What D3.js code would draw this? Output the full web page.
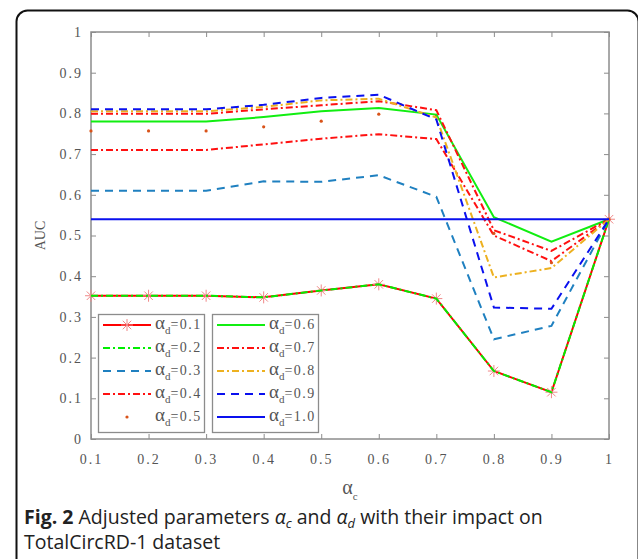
<!DOCTYPE html>
<html>
<head>
<meta charset="utf-8">
<script src="https://cdn.jsdelivr.net/npm/d3@7"></script>
<style>
  body { margin: 0; background: #fff; }
  svg { display: block; }
</style>
</head>
<body>
<div id="chart"></div>
<script>
var width = 638,
    height = 559;

// alpha_c values along the x axis
var alphaC = [0.1, 0.2, 0.3, 0.4, 0.5, 0.6, 0.7, 0.8, 0.9, 1.0];
var xTicks = [0.1, 0.2, 0.3, 0.4, 0.5, 0.6, 0.7, 0.8, 0.9, 1];
var yTicks = [0, 0.1, 0.2, 0.3, 0.4, 0.5, 0.6, 0.7, 0.8, 0.9, 1];

// AUC for each alpha_d
var auc01 = [0.352, 0.352, 0.352, 0.348, 0.365, 0.380, 0.345, 0.167, 0.115, 0.540];
var auc02 = [0.352, 0.352, 0.352, 0.348, 0.365, 0.380, 0.345, 0.167, 0.115, 0.540];
var auc03 = [0.610, 0.610, 0.610, 0.633, 0.632, 0.648, 0.595, 0.245, 0.278, 0.540];
var auc04 = [0.710, 0.710, 0.710, 0.724, 0.738, 0.749, 0.737, 0.500, 0.437, 0.540];
var auc05 = [0.757, 0.757, 0.757, 0.767, 0.781, 0.798, 0.795, 0.505, 0.433, 0.540];
var auc06 = [0.780, 0.780, 0.780, 0.791, 0.805, 0.813, 0.797, 0.545, 0.485, 0.540];
var auc07 = [0.799, 0.799, 0.799, 0.810, 0.820, 0.830, 0.808, 0.513, 0.462, 0.540];
var auc08 = [0.805, 0.805, 0.805, 0.816, 0.832, 0.836, 0.790, 0.397, 0.420, 0.540];
var auc09 = [0.810, 0.810, 0.810, 0.821, 0.838, 0.846, 0.785, 0.323, 0.320, 0.540];
var auc10 = [0.540, 0.540, 0.540, 0.540, 0.540, 0.540, 0.540, 0.540, 0.540, 0.540];

var legendLabels = ["0.1", "0.2", "0.3", "0.4", "0.5", "0.6", "0.7", "0.8", "0.9", "1.0"];

var series = [
  { label: legendLabels[0], values: auc01, color: "#ff0000", dash: null, star: true },
  { label: legendLabels[1], values: auc02, color: "#00ee00", dash: "7,3,2,3" },
  { label: legendLabels[2], values: auc03, color: "#1f80c0", dash: "8,6" },
  { label: legendLabels[3], values: auc04, color: "#ff1010", dash: "7,3,2,3" },
  { label: legendLabels[4], values: auc05, color: "#d95319", dots: true },
  { label: legendLabels[5], values: auc06, color: "#11ee11", dash: null },
  { label: legendLabels[6], values: auc07, color: "#ff1010", dash: "7,3,2,3" },
  { label: legendLabels[7], values: auc08, color: "#edb120", dash: "7,3,2,3" },
  { label: legendLabels[8], values: auc09, color: "#0a10ee", dash: "8,6" },
  { label: legendLabels[9], values: auc10, color: "#0a10ee", dash: null }
];

var margin = { left: 91, right: 29, top: 32, bottom: 120 };

var x = d3.scaleLinear()
    .domain([0.1, 1])
    .range([margin.left, width - margin.right]);

var y = d3.scaleLinear()
    .domain([0, 1])
    .range([height - margin.bottom, margin.top]);

var svg = d3.select("#chart").append("svg")
    .attr("width", width)
    .attr("height", height);

// figure frame
svg.append("rect")
    .attr("x", 16.5).attr("y", 10.5)
    .attr("width", 622).attr("height", 562)
    .attr("rx", 11)
    .attr("fill", "none")
    .attr("stroke", "#111")
    .attr("stroke-width", 2);

var fmt = function(d) { return (d === 0 || d === 1) ? d : d.toFixed(1); };
var axisColor = "#8c8c8c",
    textColor = "#555",
    serif = "'Liberation Serif', 'DejaVu Serif', serif";

function styleAxis(g) {
  g.select(".domain").remove();
  g.selectAll(".tick line").attr("stroke", axisColor).attr("stroke-width", 1);
  g.selectAll(".tick text")
      .attr("fill", textColor)
      .style("font-family", serif)
      .style("font-size", "14px")
      .style("letter-spacing", "2px");
}

svg.append("g")
    .attr("transform", "translate(0," + y(0) + ")")
    .call(d3.axisBottom(x).tickValues(xTicks).tickFormat(fmt).tickSizeInner(-5).tickSizeOuter(0).tickPadding(15))
    .call(styleAxis);

svg.append("g")
    .attr("transform", "translate(0," + y(1) + ")")
    .call(d3.axisTop(x).tickValues(xTicks).tickFormat("").tickSizeInner(-5).tickSizeOuter(0))
    .call(styleAxis);

svg.append("g")
    .attr("transform", "translate(" + x(0.1) + ",0)")
    .call(d3.axisLeft(y).tickValues(yTicks).tickFormat(fmt).tickSizeInner(-5).tickSizeOuter(0).tickPadding(8))
    .call(styleAxis);

svg.append("g")
    .attr("transform", "translate(" + x(1) + ",0)")
    .call(d3.axisRight(y).tickValues(yTicks).tickFormat("").tickSizeInner(-5).tickSizeOuter(0))
    .call(styleAxis);

// plot box
svg.append("rect")
    .attr("x", x(0.1)).attr("y", y(1))
    .attr("width", x(1) - x(0.1)).attr("height", y(0) - y(1))
    .attr("fill", "none")
    .attr("stroke", axisColor)
    .attr("stroke-width", 1.5);

var line = d3.line()
    .x(function(d, i) { return x(alphaC[i]); })
    .y(function(d) { return y(d); });

function starPath(r) {
  var p = "";
  [0, 45, 90, 135].forEach(function(a) {
    var t = a * Math.PI / 180, dx = r * Math.cos(t), dy = r * Math.sin(t);
    p += "M" + (-dx) + "," + (-dy) + "L" + dx + "," + dy;
  });
  return p;
}

var plot = svg.append("g");

series.forEach(function(s) {
  if (s.dots) {
    plot.selectAll(null)
        .data(s.values)
      .enter().append("circle")
        .attr("cx", function(d, i) { return x(alphaC[i]); })
        .attr("cy", function(d) { return y(d); })
        .attr("r", 1.6)
        .attr("fill", s.color);
    return;
  }
  plot.append("path")
      .datum(s.values)
      .attr("d", line)
      .attr("fill", "none")
      .attr("stroke", s.color)
      .attr("stroke-width", 2)
      .attr("stroke-dasharray", s.dash);
  if (s.star) {
    plot.selectAll(null)
        .data(s.values)
      .enter().append("path")
        .attr("transform", function(d, i) { return "translate(" + x(alphaC[i]) + "," + y(d) + ")"; })
        .attr("d", starPath(6))
        .attr("stroke", "#f08888")
        .attr("stroke-width", 1);
  }
});

// legend, two boxes of five entries
var legendBoxes = [{ x: 98, y: 314, w: 106, h: 118 }, { x: 212, y: 314, w: 106, h: 118 }];
var rowY = [325, 348, 371, 394, 417];

legendBoxes.forEach(function(b, k) {
  var lg = svg.append("g");
  lg.append("rect")
      .attr("x", b.x + 0.5).attr("y", b.y + 0.5)
      .attr("width", b.w).attr("height", b.h)
      .attr("fill", "#fff")
      .attr("stroke", axisColor)
      .attr("stroke-width", 1.3);

  series.slice(k * 5, k * 5 + 5).forEach(function(s, j) {
    var ly = rowY[j],
        x0 = b.x + 5,
        x1 = b.x + 53;
    if (s.dots) {
      lg.append("circle")
          .attr("cx", (x0 + x1) / 2).attr("cy", ly)
          .attr("r", 1.6).attr("fill", s.color);
    } else {
      lg.append("line")
          .attr("x1", x0).attr("x2", x1)
          .attr("y1", ly).attr("y2", ly)
          .attr("stroke", s.color)
          .attr("stroke-width", 2)
          .attr("stroke-dasharray", s.dash);
    }
    if (s.star) {
      lg.append("path")
          .attr("transform", "translate(" + ((x0 + x1) / 2) + "," + ly + ")")
          .attr("d", starPath(6))
          .attr("stroke", "#f08888")
          .attr("stroke-width", 1);
    }
    var t = lg.append("text")
        .attr("x", b.x + 57)
        .attr("y", ly + 4)
        .attr("fill", textColor)
        .style("font-family", serif)
        .style("font-size", "14px");
    t.append("tspan").style("font-size", "19px").text("α");
    t.append("tspan").attr("dy", 5).style("font-size", "11px").text("d");
    t.append("tspan").attr("dy", -5).style("letter-spacing", "1.5px").text("=" + s.label);
  });
});

// axis titles
svg.append("text")
    .attr("transform", "translate(45," + y(0.5) + ") rotate(-90)")
    .attr("text-anchor", "middle")
    .attr("fill", textColor)
    .style("font-family", serif)
    .style("font-size", "14px")
    .text("AUC");

var xt = svg.append("text")
    .attr("x", (x(0.1) + x(1)) / 2)
    .attr("y", 494)
    .attr("text-anchor", "middle")
    .attr("fill", textColor)
    .style("font-family", serif)
    .style("font-size", "20px");
xt.append("tspan").text("α");
xt.append("tspan").attr("dy", 6).style("font-size", "11px").text("c");

// caption
var cap = svg.append("text")
    .attr("x", 24)
    .attr("y", 524)
    .attr("fill", "#222")
    .style("font-family", "'Open Sans', sans-serif")
    .style("font-size", "19.5px");
cap.append("tspan").style("font-weight", "bold").text("Fig. 2");
cap.append("tspan").text(" Adjusted parameters ");
cap.append("tspan").style("font-style", "italic").text("α");
cap.append("tspan").attr("dy", 4).style("font-size", "13px").style("font-style", "italic").text("c");
cap.append("tspan").attr("dy", -4).text(" and ");
cap.append("tspan").style("font-style", "italic").text("α");
cap.append("tspan").attr("dy", 4).style("font-size", "13px").style("font-style", "italic").text("d");
cap.append("tspan").attr("dy", -4).text(" with their impact on");

svg.append("text")
    .attr("x", 24)
    .attr("y", 549)
    .attr("fill", "#222")
    .style("font-family", "'Open Sans', sans-serif")
    .style("font-size", "19.5px")
    .text("TotalCircRD-1 dataset");
</script>
</body>
</html>
